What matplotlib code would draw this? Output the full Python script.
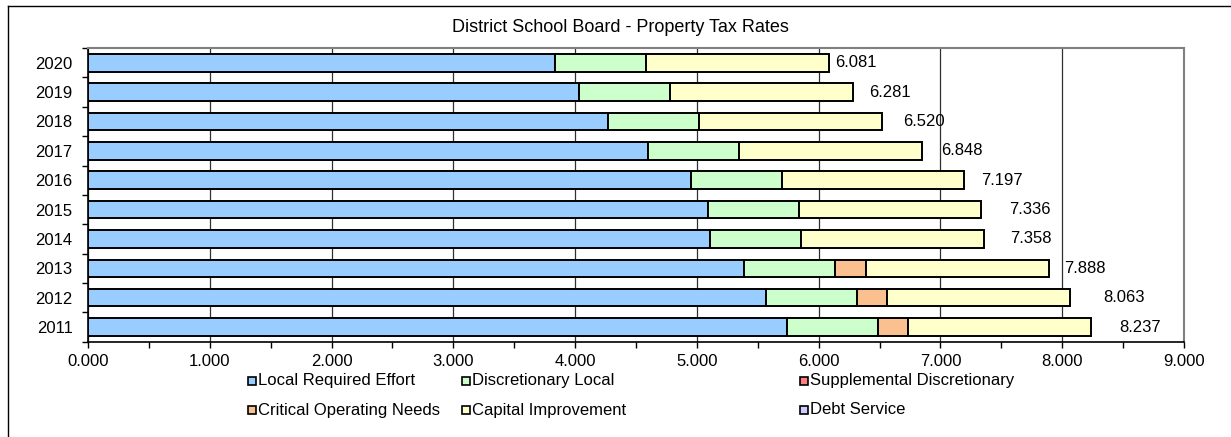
import matplotlib
matplotlib.use("Agg")
import matplotlib.pyplot as plt
from matplotlib.patches import Rectangle
from matplotlib.lines import Line2D
from matplotlib.ticker import MultipleLocator, FormatStrFormatter
import numpy as np

plt.rcParams['font.family'] = ['Liberation Sans', 'DejaVu Sans']

years = ['2020', '2019', '2018', '2017', '2016', '2015', '2014', '2013', '2012', '2011']
local_required = [3.833, 4.033, 4.272, 4.600, 4.949, 5.088, 5.110, 5.390, 5.565, 5.739]
discretionary = [0.748] * 10
supplemental = [0.0] * 10
critical_ops = [0, 0, 0, 0, 0, 0, 0, 0.250, 0.250, 0.250]
capital = [1.500] * 10
debt_service = [0.0] * 10
totals = [6.081, 6.281, 6.520, 6.848, 7.197, 7.336, 7.358, 7.888, 8.063, 8.237]

series_names = ['Local Required Effort', 'Discretionary Local', 'Supplemental Discretionary',
                'Critical Operating Needs', 'Capital Improvement', 'Debt Service']
series_vals = [local_required, discretionary, supplemental, critical_ops, capital, debt_service]
colors = ['#99CCFF', '#CCFFCC', '#FF8080', '#FAC090', '#FFFFCC', '#CCCCFF']

# label offsets (points) right of each bar end, as in the original
label_pad = [5, 12, 15, 14, 12, 20, 19, 11, 24, 20]

fig = plt.figure(figsize=(12.31, 4.37), dpi=100)
ax = fig.add_axes([0.0715, 0.218, 0.8903, 0.672])

y = np.arange(len(years))
left = np.zeros(len(years))
for name, vals, c in zip(series_names, series_vals, colors):
    vals = np.array(vals)
    mask = vals > 0
    ax.barh(y[mask], vals[mask], left=left[mask], height=0.6, color=c,
            edgecolor='black', linewidth=1.4, zorder=3)
    left += vals

for yi, t, pad in zip(y, totals, label_pad):
    ax.annotate(f'{t:.3f}', (t, yi), xytext=(pad, 0), textcoords='offset points',
                va='center', ha='left', fontsize=12)

ax.set_xlim(0, 9)
ax.set_ylim(len(years) - 0.5, -0.5)
ax.xaxis.set_major_locator(MultipleLocator(1))
ax.xaxis.set_minor_locator(MultipleLocator(0.5))
ax.xaxis.set_major_formatter(FormatStrFormatter('%.3f'))
ax.tick_params(axis='x', which='both', direction='out', length=4, width=1, labelsize=12, pad=5)
ax.set_yticks(y)
ax.set_yticklabels(years)
ax.set_yticks(np.arange(-0.5, len(years), 1), minor=True)
ax.tick_params(axis='y', which='major', length=0, labelsize=12, pad=11)
ax.tick_params(axis='y', which='minor', direction='out', length=4, width=1)
ax.grid(axis='x', which='major', color='#303030', linewidth=0.9, zorder=0)
ax.set_axisbelow(True)

for s in ['top', 'right']:
    ax.spines[s].set_color('#808080')
    ax.spines[s].set_linewidth(1.5)
for s in ['left', 'bottom']:
    ax.spines[s].set_color('black')
    ax.spines[s].set_linewidth(1.2)

fig.text(620 / 1231, 1 - 27 / 437, 'District School Board - Property Tax Rates',
         ha='center', va='center', fontsize=13)

# legend placed like the spreadsheet legend: 2 rows x 3 columns
col_x = [248, 462, 800]
row_y = [381, 410]
W, H = 1231.0, 437.0
for i, (name, c) in enumerate(zip(series_names, colors)):
    cx = col_x[i % 3]
    cy = row_y[i // 3]
    fig.patches.append(Rectangle((cx / W, 1 - (cy + 4) / H), 8 / W, 8 / H,
                                 transform=fig.transFigure, facecolor=c,
                                 edgecolor='black', linewidth=1.2))
    fig.text((cx + 10) / W, 1 - cy / H, name, ha='left', va='center', fontsize=12)

# outer chart frame
fig.lines.append(Line2D([8 / W, 8 / W], [0, 1 - 6 / H], transform=fig.transFigure,
                        color='black', linewidth=1))
fig.lines.append(Line2D([8 / W, 1], [1 - 6 / H, 1 - 6 / H], transform=fig.transFigure,
                        color='black', linewidth=1))

fig.savefig('out.png', dpi=100)
